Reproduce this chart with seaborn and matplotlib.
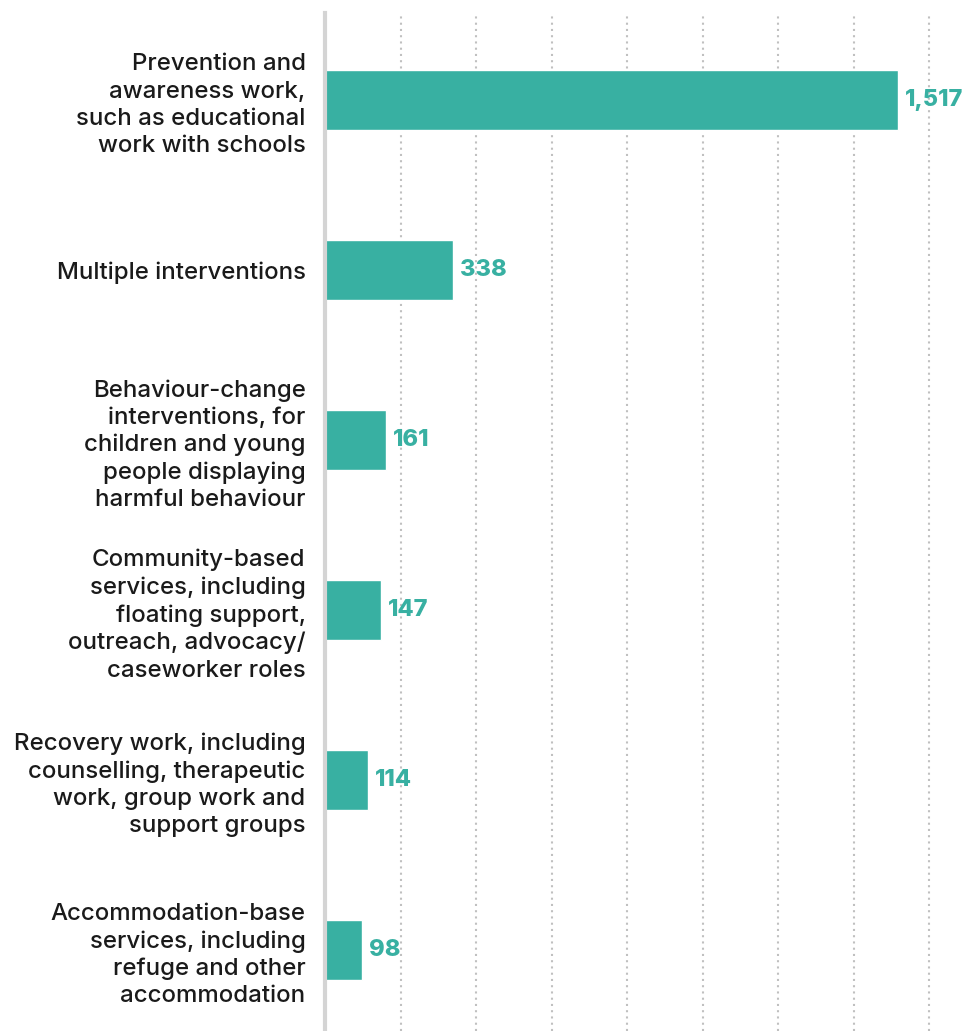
import matplotlib
matplotlib.use("Agg")
import matplotlib.pyplot as plt
import seaborn as sns
import pandas as pd

categories = [
    "Prevention and\nawareness work,\nsuch as educational\nwork with schools",
    "Multiple interventions",
    "Behaviour-change\ninterventions, for\nchildren and young\npeople displaying\nharmful behaviour",
    "Community-based\nservices, including\nfloating support,\noutreach, advocacy/\ncaseworker roles",
    "Recovery work, including\ncounselling, therapeutic\nwork, group work and\nsupport groups",
    "Accommodation-base\nservices, including\nrefuge and other\naccommodation",
]
values = [1517, 338, 161, 147, 114, 98]
value_labels = ["1,517", "338", "161", "147", "114", "98"]

df = pd.DataFrame({"category": categories, "value": values})

sns.set_theme(style="white")
plt.rcParams["font.family"] = ["Inter", "DejaVu Sans"]

teal = "#38b0a2"
fig = plt.figure(figsize=(9.63, 10.31), dpi=100)
ax = fig.add_axes([0.3375, 0.0, 0.6625, 0.9874])

sns.barplot(data=df, y="category", x="value", color=teal, saturation=1,
            width=0.353, ax=ax, zorder=3)

ax.set_xlim(0, 1689)
ax.set_ylim(5.476, -0.512)
ax.set_xticks(range(200, 1700, 200))
ax.xaxis.grid(True, linestyle=(0, (1, 2.0)), color="#c0c0c0", linewidth=1.5, zorder=0)
ax.yaxis.grid(False)
for s in ["top", "right", "bottom"]:
    ax.spines[s].set_visible(False)
ax.spines["left"].set_color("#d4d4d4")
ax.spines["left"].set_linewidth(3.0)
ax.spines["left"].set_zorder(5)
ax.tick_params(axis="x", bottom=False, labelbottom=False)
ax.tick_params(axis="y", left=False, pad=8)
ax.set_xlabel("")
ax.set_ylabel("")
for lbl in ax.get_yticklabels():
    lbl.set_fontsize(17.3)
    lbl.set_fontweight(500)
    lbl.set_color("#1a1a1a")
    lbl.set_horizontalalignment("right")
    lbl.set_multialignment("right")
    lbl.set_linespacing(1.3)

for i, (v, t) in enumerate(zip(values, value_labels)):
    ax.annotate(t, xy=(v, i), xytext=(5, 0), textcoords="offset points",
                va="center", ha="left", fontsize=17, fontweight="heavy", color=teal)

fig.savefig("out.png", dpi=100)
